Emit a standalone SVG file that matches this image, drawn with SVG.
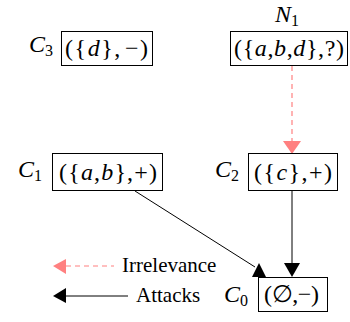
<svg xmlns="http://www.w3.org/2000/svg" width="350" height="322" viewBox="0 0 350 322">
<style>
.box{fill:#fff;stroke:#000;stroke-width:1}
.m{font-family:"Liberation Serif","Times New Roman",serif;font-size:24px;fill:#000}
.i{font-style:italic}
.sub{font-size:16px;font-style:normal}
.lg{font-family:"Liberation Serif","Times New Roman",serif;font-size:21px;fill:#000}
.att{stroke:#000;stroke-width:1;fill:none}
.irr{stroke:#ff8080;stroke-width:1.2;fill:none;stroke-dasharray:5 4}
</style>
<rect width="350" height="322" fill="#fff"/>
<g id="connectors">
  <line class="irr" x1="292" y1="66" x2="292" y2="142"/>
  <polygon points="283,141 301,141 292,154" fill="#ff8080"/>
  <line class="att" x1="292" y1="191" x2="292" y2="264"/>
  <polygon points="284,263 300,263 292,277" fill="#000"/>
  <line class="att" x1="135" y1="191" x2="255" y2="267"/>
  <polygon points="252,277 266,277 259,263" fill="#000"/>
</g>
<g id="C3">
  <text class="m i" x="29" y="52">C<tspan class="sub" dy="4">3</tspan></text>
  <rect class="box" x="61.5" y="31.5" width="91" height="34"/>
  <text class="m" x="65" y="56" textLength="83" lengthAdjust="spacing">({<tspan class="i">d</tspan>},<tspan dx="3">−)</tspan></text>
</g>
<g id="N1">
  <text class="m i" x="275" y="22">N<tspan class="sub" dy="4">1</tspan></text>
  <rect class="box" x="230.5" y="31.5" width="117" height="34"/>
  <text class="m" x="234" y="56" textLength="110" lengthAdjust="spacing">({<tspan class="i">a</tspan>,<tspan class="i">b</tspan>,<tspan class="i">d</tspan>},?)</text>
</g>
<g id="C1">
  <text class="m i" x="18" y="177">C<tspan class="sub" dy="4">1</tspan></text>
  <rect class="box" x="52.5" y="153.5" width="110" height="37"/>
  <text class="m" x="59" y="180" textLength="98" lengthAdjust="spacing">({<tspan class="i">a</tspan>,<tspan class="i">b</tspan>},+)</text>
</g>
<g id="C2">
  <text class="m i" x="215" y="177">C<tspan class="sub" dy="4">2</tspan></text>
  <rect class="box" x="248.5" y="153.5" width="89" height="37"/>
  <text class="m" x="254" y="180" textLength="78" lengthAdjust="spacing">({<tspan class="i">c</tspan>},+)</text>
</g>
<g id="C0">
  <text class="m i" x="224" y="302">C<tspan class="sub" dy="4">0</tspan></text>
  <rect class="box" x="258.5" y="277.5" width="69" height="34"/>
  <text class="m" x="264" y="302" textLength="55" lengthAdjust="spacing">(∅,−)</text>
</g>
<g id="legend">
  <line class="irr" x1="66" y1="266" x2="114" y2="266"/>
  <polygon points="53,266 66,259 66,274" fill="#ff8080"/>
  <text class="lg" x="122" y="272">Irrelevance</text>
  <line class="att" x1="66" y1="296" x2="128" y2="296"/>
  <polygon points="53,296 66,288 66,303" fill="#000"/>
  <text class="lg" x="136" y="302">Attacks</text>
</g>
</svg>
